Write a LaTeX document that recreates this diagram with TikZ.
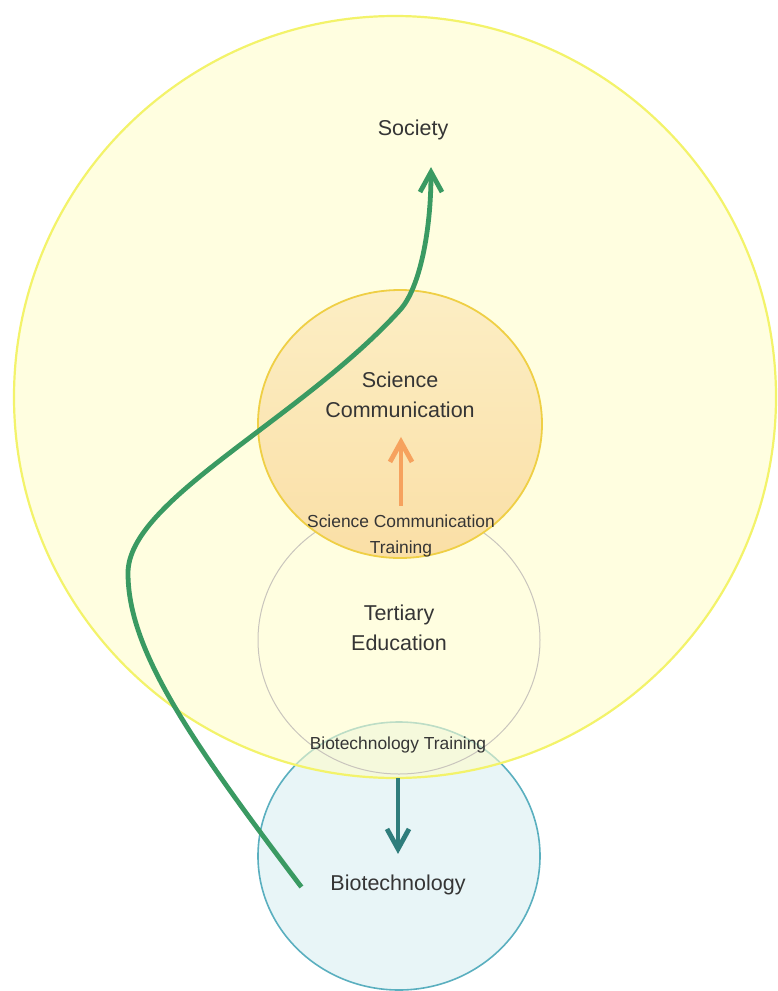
\documentclass[tikz,border=0pt]{standalone}
\usepackage{fontspec}
\setmainfont{Liberation Sans}
\usetikzlibrary{arrows.meta}
\definecolor{socfill}{HTML}{FFFDCB}
\definecolor{socline}{HTML}{F3F36A}
\definecolor{scitop}{HTML}{FCEEC4}
\definecolor{scibottom}{HTML}{FADFA6}
\definecolor{sciline}{HTML}{EFCF45}
\definecolor{terline}{HTML}{C9C5BD}
\definecolor{biofill}{HTML}{E8F5F7}
\definecolor{bioline}{HTML}{5AAFBF}
\definecolor{pathgreen}{HTML}{3A9A62}
\definecolor{trainorange}{HTML}{F6A25E}
\definecolor{trainteal}{HTML}{2F7D7C}
\definecolor{labelgray}{HTML}{353535}
\tikzset{
  biglabel/.style={font=\fontsize{10.75}{15}\selectfont, text=labelgray, align=center},
  smalllabel/.style={font=\fontsize{8.7}{13}\selectfont, text=labelgray, align=center},
  trainarrow/.style={line width=2.4pt, -{Straight Barb[length=10pt,width=11pt]}}
}
\begin{document}
\begin{tikzpicture}[x=0.5pt,y=-0.5pt]
\useasboundingbox (0,0) rectangle (777,991);
\clip (0,0) rectangle (777,991);

\draw[bioline, line width=0.8pt, fill=biofill] (399,856) ellipse [x radius=141, y radius=134]; % biotechnology
\draw[socline, line width=1.1pt, fill=socfill, fill opacity=0.6] (395,397) circle [radius=381]; % society
\draw[terline, line width=0.5pt] (399,640) ellipse [x radius=141, y radius=134]; % tertiary education
\draw[sciline, line width=0.9pt, top color=scitop, bottom color=scibottom] (400,424) ellipse [x radius=142, y radius=134]; % science communication

\node[biglabel] (soc) at (413,130) {Society};
\node[biglabel] (scicomm) at (400,395) {Science\\Communication};
\node[smalllabel] (sctrain) at (401,536) {Science Communication\\Training};
\node[biglabel] (tert) at (399,628) {Tertiary\\Education};
\node[smalllabel] (biotrain) at (398,745) {Biotechnology Training};
\node[biglabel] (bio) at (398,885) {Biotechnology};

% training arrows
\draw[trainarrow, trainorange, shorten <=1pt, shorten >=6pt] (sctrain.north) -- (sctrain.north |- scicomm.south);
\draw[trainarrow, trainteal, shorten <=9pt, shorten >=7pt] (biotrain.south) -- (bio.north);

% path from biotechnology up to society
\draw[pathgreen, line width=2.4pt, -{Straight Barb[length=10pt,width=11pt]}]
  ([xshift=-11pt,yshift=-1pt]bio.west) .. controls (190,740) and (128,650) .. (128,573)
  .. controls (128,500) and (300,420) .. (400,310)
  .. controls (420,288) and (431,230) .. ([xshift=9pt,yshift=-10pt]soc.south);
\end{tikzpicture}
\end{document}
